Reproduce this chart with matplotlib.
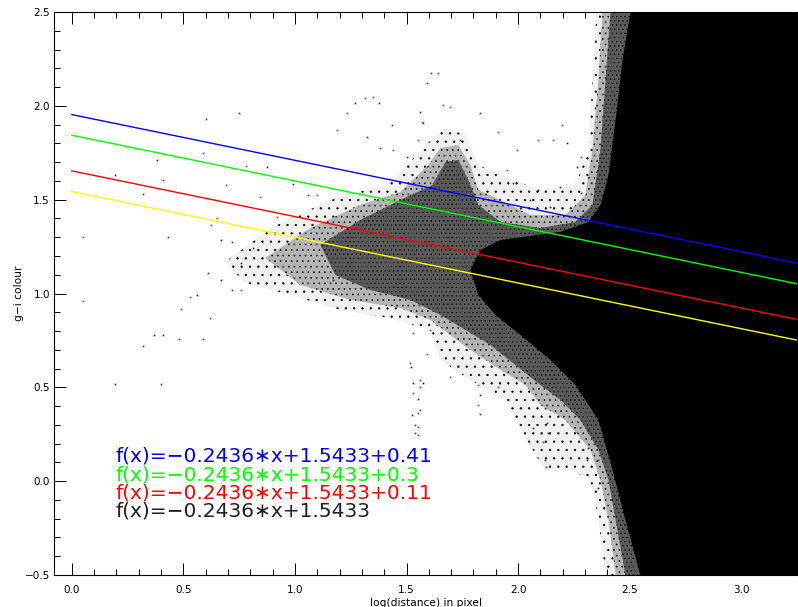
import matplotlib
matplotlib.use("Agg")
import matplotlib.pyplot as plt
from matplotlib.ticker import MultipleLocator

plt.rcParams["hatch.linewidth"] = 0.4

# ---- fit relation and colour cuts ----
slope = -0.2436
intercept = 1.5433
offsets = [0.41, 0.3, 0.11, 0.0]
line_colors = ["#0000ff", "#00ff00", "#ff0000", "#ffff00"]
label_colors = ["#0000ff", "#00ff00", "#ff0000", "#202020"]
labels = ["f(x)=\u22120.2436\u2217x+1.5433+0.41",
          "f(x)=\u22120.2436\u2217x+1.5433+0.3",
          "f(x)=\u22120.2436\u2217x+1.5433+0.11",
          "f(x)=\u22120.2436\u2217x+1.5433"]
line_x = [0.0, 3.25]

# ---- point cloud, as density contours: sparse, medium, dense, saturated ----
sparse_x = [0.687, 0.889, 1.158, 1.427, 1.584, 1.674, 1.764, 1.822, 1.921, 2.100,
            2.257, 2.315, 2.333, 2.351, 2.817, 2.817, 2.392, 2.360, 2.324, 2.235,
            2.122, 2.010, 1.943, 1.786, 1.652, 1.607, 1.427, 1.203, 0.979, 0.777]
sparse_y = [1.168, 1.349, 1.498, 1.589, 1.791, 1.882, 1.845, 1.685, 1.632, 1.552,
            1.578, 1.765, 2.138, 2.5, 2.5, -0.5, -0.5, -0.206, 0.007, 0.060,
            0.060, 0.273, 0.433, 0.539, 0.646, 0.806, 0.870, 0.912, 0.992, 1.056]

medium_x = [0.867, 1.069, 1.293, 1.472, 1.598, 1.652, 1.732, 1.786, 1.822, 1.921,
            2.055, 2.212, 2.302, 2.333, 2.360, 2.378, 2.817, 2.817, 2.437, 2.405,
            2.369, 2.324, 2.212, 2.100, 2.033, 1.921, 1.786, 1.696, 1.607, 1.472,
            1.248, 1.024]
medium_y = [1.189, 1.349, 1.472, 1.541, 1.685, 1.775, 1.791, 1.685, 1.552, 1.498,
            1.418, 1.418, 1.525, 1.765, 2.138, 2.5, 2.5, -0.5, -0.5, -0.206,
            0.007, 0.167, 0.326, 0.406, 0.513, 0.593, 0.699, 0.779, 0.859, 0.923,
            0.966, 1.046]

dense_x = [1.113, 1.293, 1.472, 1.616, 1.674, 1.732, 1.777, 1.822, 1.921, 2.100,
           2.257, 2.333, 2.369, 2.392, 2.414, 2.817, 2.817, 2.481, 2.437, 2.405,
           2.360, 2.279, 2.190, 2.100, 1.988, 1.876, 1.764, 1.652, 1.517, 1.338,
           1.181]
dense_y = [1.259, 1.392, 1.498, 1.578, 1.701, 1.712, 1.605, 1.472, 1.381, 1.349,
           1.381, 1.472, 1.765, 2.138, 2.5, 2.5, -0.5, -0.5, -0.206, 0.007,
           0.167, 0.326, 0.433, 0.513, 0.619, 0.726, 0.806, 0.886, 0.966, 1.019,
           1.099]

solid_x = [2.504, 2.468, 2.437, 2.405, 2.369, 2.315, 2.190, 2.055, 1.921, 1.831,
           1.786, 1.822, 1.898, 2.010, 2.145, 2.257, 2.360, 2.423, 2.481, 2.548,
           3.25, 3.25]
solid_y = [2.5, 2.244, 1.925, 1.632, 1.472, 1.381, 1.328, 1.307, 1.285, 1.232,
           1.125, 0.992, 0.886, 0.779, 0.646, 0.513, 0.326, 0.060, -0.206, -0.5,
           -0.5, 2.5]

# isolated galaxies outside the main cloud
pts_x = [0.05, 0.05, 0.195, 0.40, 0.32, 0.37, 0.41, 0.48, 0.59, 0.62, 0.49, 0.53,
         0.56, 0.67, 0.72, 0.76, 0.61, 0.67, 0.625, 0.69, 0.60, 0.75, 0.38, 0.59,
         0.41, 0.32, 0.195, 0.43, 0.875, 0.78, 0.845, 0.92, 1.10, 1.19, 1.235,
         1.27, 1.315, 1.35, 1.375, 1.325, 1.38, 1.44, 1.50, 1.56, 1.61, 1.64,
         1.59, 1.55, 1.575, 1.52, 1.53, 1.55, 1.55, 1.54, 1.56, 1.59, 1.17, 1.06,
         0.99, 0.65, 0.72, 0.81, 0.76, 1.53, 1.575, 1.55, 1.56, 1.525, 1.54, 1.55,
         1.82, 1.83, 1.82, 1.83, 1.91, 2.12, 2.127, 2.356, 2.356, 2.315, 2.13,
         2.135, 2.113, 2.068, 2.315, 2.31, 1.665, 1.696, 1.831, 1.436, 1.571,
         1.741, 1.912, 1.997, 2.087, 2.199, 2.158, 2.221, 2.28, 1.952, 1.979,
         2.087, 2.19, 2.266, 2.28, 2.055, 2.145, 1.517, 1.562, 1.696, 1.531, 1.607]
pts_y = [1.30, 0.96, 0.52, 0.52, 0.72, 0.78, 0.78, 0.76, 0.76, 0.87, 0.92, 0.98,
         0.99, 1.07, 1.02, 1.02, 1.11, 1.285, 1.365, 1.58, 1.93, 1.96, 1.71, 1.75,
         1.605, 1.53, 1.63, 1.30, 1.675, 1.68, 1.515, 1.41, 1.525, 1.87, 1.96,
         2.015, 2.04, 2.047, 2.015, 1.834, 1.775, 1.765, 1.727, 1.967, 2.175,
         2.175, 2.12, 1.818, 1.909, 0.61, 0.47, 0.364, 0.289, 0.257, 0.54, 0.68,
         1.07, 1.525, 1.584, 1.40, 1.275, 1.243, 1.163, 0.523, 0.523, 0.44, 0.38,
         0.353, 0.30, 0.246, 0.513, 0.46, 0.406, 0.358, 0.502, 0.113, 0.076,
         0.113, -0.036, 0.177, 0.31, 0.257, 0.209, 0.284, 0.273, 0.113, 2.005,
         1.994, 1.962, 1.898, 1.914, 1.818, 1.861, 1.765, 1.818, 1.898, 1.818,
         1.802, 1.727, 1.658, 1.589, 1.552, 1.568, 1.674, 1.536, 1.498, 1.461,
         0.63, 0.502, 0.555, 0.79, 0.806]

x_ticks = [0.0, 0.5, 1.0, 1.5, 2.0, 2.5, 3.0]
y_ticks = [-0.5, 0.0, 0.5, 1.0, 1.5, 2.0, 2.5]

fig = plt.figure(figsize=(7.98, 6.07), dpi=100)
ax = fig.add_axes([54 / 798, 32 / 607, 743 / 798, 563 / 607])

# stippled density layers
ax.fill(sparse_x, sparse_y, facecolor="#f0f0f0", edgecolor="black",
        linewidth=0, hatch="..", zorder=1)
ax.fill(medium_x, medium_y, facecolor="#b4b4b4", edgecolor="black",
        linewidth=0, hatch="...", zorder=2)
ax.fill(dense_x, dense_y, facecolor="#5a5a5a", edgecolor="black",
        linewidth=0, hatch="....", zorder=3)
ax.fill(solid_x, solid_y, facecolor="black", edgecolor="none", zorder=4)
ax.plot(pts_x, pts_y, linestyle="none", marker="s", markersize=1.1,
        markeredgewidth=0, color="black", zorder=4.5)

for off, col in zip(offsets, line_colors):
    ly = [slope * xv + intercept + off for xv in line_x]
    ax.plot(line_x, ly, color=col, linewidth=1.0, zorder=5)

ax.set_xlim(-0.08, 3.25)
ax.set_ylim(-0.5, 2.5)

ax.xaxis.set_minor_locator(MultipleLocator(0.1))
ax.yaxis.set_minor_locator(MultipleLocator(0.1))
ax.set_xticks(x_ticks)
ax.set_yticks(y_ticks)
ax.set_xticklabels([f"{v:.1f}" for v in x_ticks])
ax.set_yticklabels([f"{v:.1f}".replace("-", "\u2212") for v in y_ticks])
ax.tick_params(which="major", direction="in", length=8.6, width=0.7,
               top=True, right=True, labelsize=7.5, pad=7)
ax.tick_params(axis="y", which="major", pad=3)
ax.tick_params(which="minor", direction="in", length=4.2, width=0.7,
               top=True, right=True)
for sp in ax.spines.values():
    sp.set_linewidth(0.8)
    sp.set_zorder(6)

ax.set_xlabel("log(distance) in pixel", fontsize=7.7, labelpad=2)
ax.set_ylabel("g\u2212i colour", fontsize=7.7)
ax.yaxis.set_label_coords(-0.040, 0.5)

text_y = [0.2114, 0.1776, 0.1456, 0.1137]
for lab, col, ty in zip(labels, label_colors, text_y):
    ax.text(0.0821, ty, lab, transform=ax.transAxes, color=col, fontsize=14.5,
            ha="left", va="center", zorder=7)

fig.savefig("out.png", dpi=100)
